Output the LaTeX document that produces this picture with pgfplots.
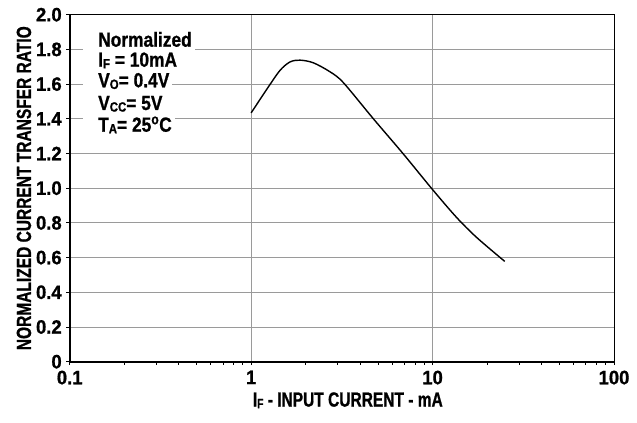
\documentclass[border=0pt]{standalone}
\usepackage{fontspec}
\setmainfont{Liberation Sans}[FakeStretch=0.85, BoldFeatures={FakeBold=0.9}]
\newfontfamily\tickfamily{Liberation Sans}[FakeStretch=0.95, BoldFeatures={FakeBold=0.9}]
\newfontfamily\labelfamily{Liberation Sans}[FakeStretch=0.76, BoldFeatures={FakeBold=0.9}]
\usepackage{pgfplots}
\pgfplotsset{compat=1.18}

\definecolor{gridgray}{HTML}{9A9A9A}

\newcommand{\notefont}{\bfseries\fontsize{20.5}{20.5}\selectfont}
\newcommand{\sub}[1]{\raisebox{-0.08em}{\fontsize{13.5}{13.5}\selectfont #1}}
% white backing behind a line of the condition block, then the line itself
\newcommand{\noteback}[2]{\node[anchor=base west, fill=white, inner xsep=3bp, inner ysep=5bp, font=\notefont]
        at (rel axis cs:0.0465,#1) {\phantom{#2}};}
\newcommand{\notetext}[2]{\node[anchor=base west, inner sep=0pt, font=\notefont]
        at (rel axis cs:0.052,#1) {#2};}

\begin{document}
\begin{tikzpicture}
\begin{axis}[
    xmode=log,
    scale only axis,
    width=544.3bp, height=347bp,
    xmin=0.1, xmax=100,
    ymin=0, ymax=2,
    xtick={0.1,1,10,100},
    xticklabels={0.1,1,10,100},
    minor xtick={},
    ytick={0,0.2,0.4,0.6,0.8,1.0,1.2,1.4,1.6,1.8,2.0},
    yticklabels={0,0.2,0.4,0.6,0.8,1.0,1.2,1.4,1.6,1.8,2.0},
    xtick pos=bottom, ytick pos=left,
    tick align=outside,
    major tick length=3.5bp,
    tick style={black, line width=0.9bp},
    grid=major,
    grid style={draw=gridgray, line width=0.9bp},
    axis line style={line width=1bp},
    clip=false,
    /pgf/number format/assume math mode=true,
    ticklabel style={font=\tickfamily\bfseries\fontsize{19.5}{19.5}\selectfont},
    yticklabel style={xshift=-1bp},
    xticklabel style={yshift=-2bp},
    label style={font=\labelfamily\bfseries\fontsize{20.5}{20.5}\selectfont},
    xlabel style={xshift=6bp, yshift=-1bp},
    ylabel style={yshift=-2bp},
    xlabel={I\sub{F} - INPUT CURRENT - mA},
    ylabel={NORMALIZED CURRENT TRANSFER RATIO},
]
\coordinate (bl) at (rel axis cs:0,0);

\addplot[black, line width=1.4bp, smooth, tension=0.5] coordinates {
    (1.0,1.434) (1.245,1.584) (1.445,1.680) (1.64,1.728) (1.86,1.738)
    (2.20,1.723) (2.72,1.671) (3.22,1.609) (4.71,1.401) (6.88,1.199)
    (10,0.992) (13.55,0.832) (17.46,0.717) (25,0.578)
};

% thicker left and bottom frame
\draw[black, line width=1.8bp] (rel axis cs:0,1) -- (rel axis cs:0,0) -- (rel axis cs:1,0);

% condition block
\fill[white] (rel axis cs:0.0245,0.640) rectangle (rel axis cs:0.05,0.95);
\noteback{0.9078}{Normalized}
\noteback{0.850}{I\sub{F} = 10mA}
\noteback{0.7908}{V\sub{O}= 0.4V}
\noteback{0.7254}{V\sub{CC}= 5V}
\noteback{0.6628}{T\sub{A}= 25\textsuperscript{o}C}
\notetext{0.9078}{Normalized}
\notetext{0.850}{I\sub{F} = 10mA}
\notetext{0.7908}{V\sub{O}= 0.4V}
\notetext{0.7254}{V\sub{CC}= 5V}
\notetext{0.6628}{T\sub{A}= 25\textsuperscript{o}C}
\end{axis}
% fix the page to the reference's frame
\path (bl) ++(-69.7bp,-61.3bp) rectangle ++(637bp,423bp);
\end{tikzpicture}
\end{document}
